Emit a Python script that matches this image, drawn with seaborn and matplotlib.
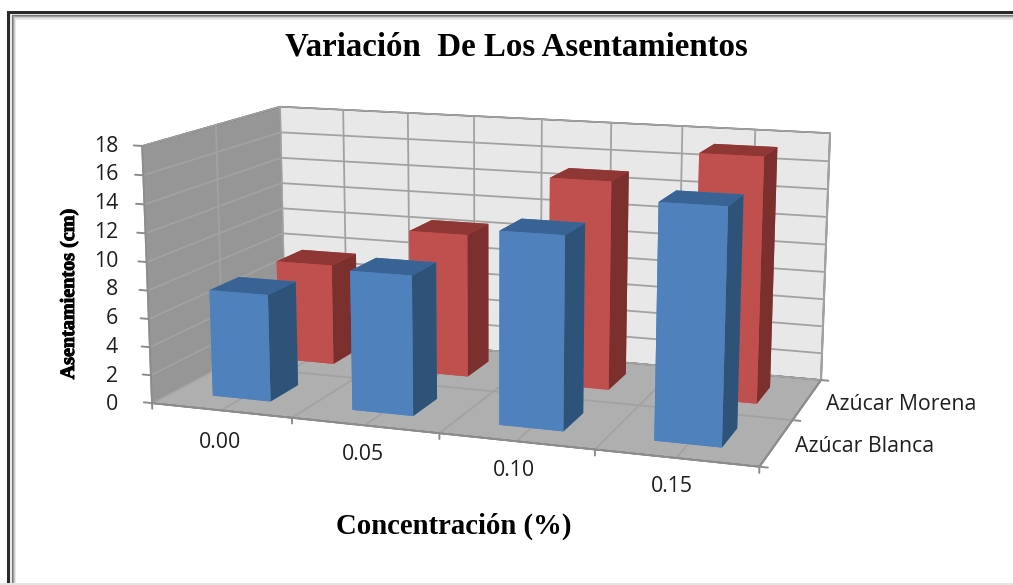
import numpy as np
import pandas as pd
import matplotlib
matplotlib.use("Agg")
import matplotlib.pyplot as plt
import matplotlib.patheffects as pe
import seaborn as sns

# =========================
# DATA
# =========================
concentraciones = ["0.00", "0.05", "0.10", "0.15"]
blanca = [7.6, 9.75, 13.2, 15.75]
morena = [7.5, 10.5, 15, 17.3]
series_names = ["Azúcar Blanca", "Azúcar Morena"]
z_ticks = [0, 2, 4, 6, 8, 10, 12, 14, 16, 18]

df = pd.DataFrame({
    "conc": list(range(4)) * 2,
    "serie": [0] * 4 + [1] * 4,
    "valor": blanca + morena,
})

W, H = 1013, 585

sns.set_theme(style="white", rc={"grid.color": "#A2A2A2", "grid.linewidth": 1.3})

fig = plt.figure(figsize=(W / 100, H / 100), dpi=100, facecolor="white")

# view fitted against the picture corners
ax = fig.add_axes([129.5 / W, -46.2 / H, 709 / W, 709 / H], projection="3d",
                  computed_zorder=False)
ax.set_facecolor("none")
ax.view_init(elev=12.17, azim=-70.55)
ax.set_proj_type("persp", focal_length=0.512)
ax.set_box_aspect((2.37, 1.19, 1))
ax.set_xlim(0, 4)
ax.set_ylim(0, 2)
ax.set_zlim(0, 18)

ax.set_xticks(np.arange(0, 4.5, 0.5))
ax.set_yticks(range(3))
ax.set_zticks(z_ticks)
ax.set_xticklabels([])
ax.set_yticklabels([])
ax.set_zticklabels([])
ax.grid(True)
ax.tick_params(colors=(0, 0, 0, 0), length=0)

# walls
ax.xaxis.set_pane_color("#969696")   # left wall
ax.yaxis.set_pane_color("#E8E8E8")   # back wall
ax.zaxis.set_pane_color("#AFAFAF")   # floor
for axis in [ax.xaxis, ax.yaxis, ax.zaxis]:
    axis.line.set_color((0, 0, 0, 0))
    axis.pane.set_edgecolor((0, 0, 0, 0))

# axis lines and tick marks drawn on the box
edge = dict(color="#8C8C8C", lw=1.4, zorder=2, clip_on=False)
ax.plot([0, 0], [0, 0], [0, 18], **edge)
ax.plot([0, 4], [0, 0], [0, 0], **edge)
ax.plot([4, 4], [0, 2], [0, 0], **edge)
ax.plot([4, 4], [2, 2], [0, 18], color="#A2A2A2", lw=1.5, zorder=2)
for z in z_ticks:
    ax.plot([-0.06, 0], [0, 0], [z, z], **edge)
for x in range(5):
    ax.plot([x, x], [0, 0], [-0.4, 0], **edge)
for y in range(3):
    ax.plot([4, 4.05], [y, y], [0, 0], **edge)

# bars, back row first
faces = {
    0: ["#4F81BD", "#386394", "#4F81BD", "#4F81BD", "#4F81BD", "#2F5279"],
    1: ["#C0504D", "#8F3735", "#C0504D", "#C0504D", "#C0504D", "#7B302E"],
}
bar_w = 0.42
bar_d = 0.42
order = 10
for serie in [1, 0]:
    rows = df[df["serie"] == serie]
    for conc, valor in zip(rows["conc"], rows["valor"]):
        ax.bar3d(conc + 0.5 - bar_w / 2, serie + 0.5 - bar_d / 2, 0,
                 bar_w, bar_d, valor, color=faces[serie], shade=False,
                 linewidth=0, zorder=order)
        order += 1

# =========================
# TEXT
# =========================
def ftext(x, y, s, **kw):
    return fig.text(x / W, 1 - y / H, s, **kw)

label = dict(family="Open Sans", fontsize=15.3, color="#1E1E1E")
z_pos = np.linspace(405, 146, len(z_ticks))
for t, yy in zip(z_ticks, z_pos):
    ftext(118, yy, str(t), ha="right", va="center", **label)

for s, (xx, yy) in zip(concentraciones, [(220, 442), (363, 455), (514, 471), (672, 487)]):
    ftext(xx, yy, s, ha="center", va="center", **label)
ftext(826, 404, series_names[1], ha="left", va="center", **label)
ftext(795, 446, series_names[0], ha="left", va="center", **label)

serif = dict(family="Liberation Serif", fontweight="bold", color="black")
ftext(516, 47, "Variación  De Los Asentamientos", ha="center", va="center", fontsize=23.7, **serif)
ftext(454, 526, "Concentración (%)", ha="center", va="center", fontsize=20.7, **serif)
t = ftext(69, 294, "Asentamientos (cm)", ha="center", va="center", rotation=90, fontsize=14.5, **serif)
t.set_path_effects([pe.withStroke(linewidth=0.7, foreground="black")])

# =========================
# FRAME
# =========================
def band(x, y, w, h, c):
    fig.add_artist(plt.Rectangle((x / W, 1 - (y + h) / H), w / W, h / H,
                                 transform=fig.transFigure, color=c, lw=0, zorder=20))

band(7, 11, W - 7, 3, "#2A2A2A")
band(7, 11, 3, H - 11, "#2A2A2A")
band(10, 14, W - 10, 1, "#E0E0E0")
band(10, 14, 2, H - 14, "#E8E8E8")
for i, c in enumerate(["#777777", "#A0A0A0", "#CCCCCC", "#E8E8E8"]):
    band(12 + i, 15 + i, W, 1.5, c)
    band(12 + i, 15 + i, 1, H, c)
band(0, 583, W, 2, "#E4E4E4")

fig.savefig("out.png", dpi=100)
